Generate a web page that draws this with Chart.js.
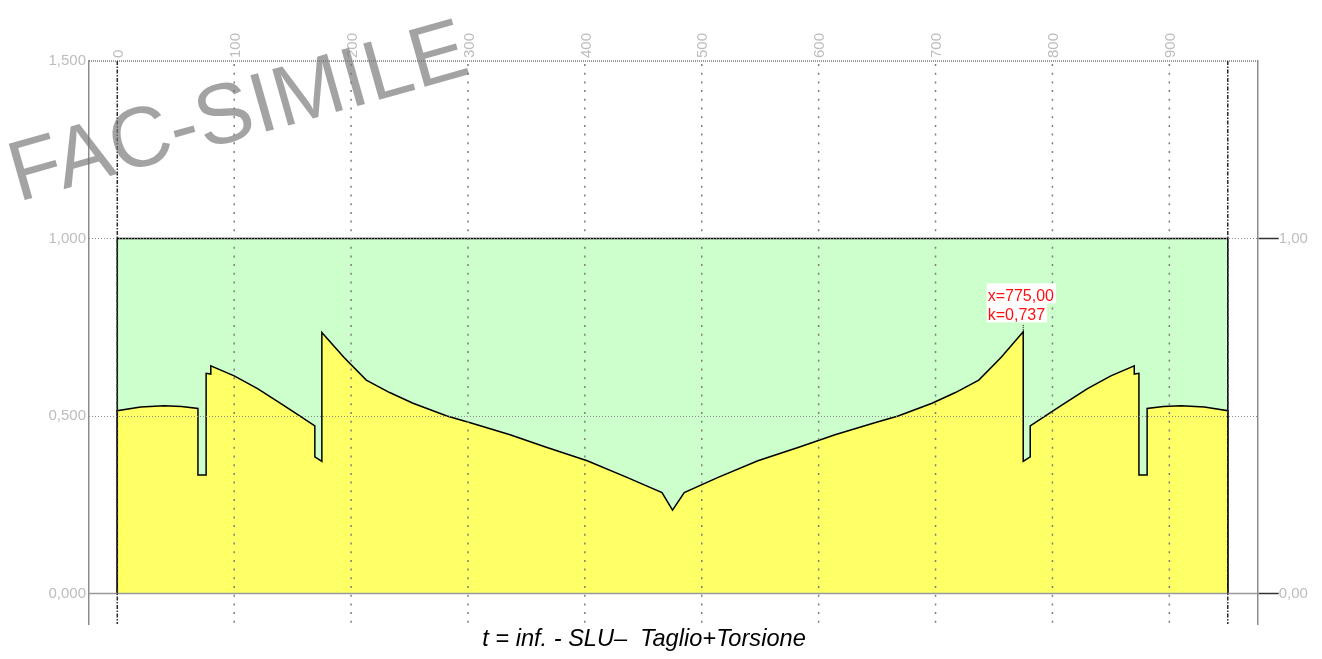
<!DOCTYPE html>
<html>
<head>
<meta charset="utf-8">
<script src="https://cdn.jsdelivr.net/npm/chart.js@4.4.0/dist/chart.umd.min.js"></script>
<style>
  html, body { margin: 0; padding: 0; background: #ffffff; }
  #wrap { width: 1322px; height: 659px; position: relative; }
</style>
</head>
<body>
<div id="wrap"><canvas id="chart"></canvas></div>
<script>
// Stations along the beam (cm) and shear + torsion utilisation k at each station
const stationX = [
  0, 0, 20, 40, 55, 69, 69, 76, 76, 80, 80, 100, 120, 140, 157, 169, 169, 175, 175, 194,
  213, 233, 253, 282, 302, 336, 367, 402, 436, 466, 475,
  485, 514, 548, 583, 614, 648, 668, 697, 717, 737, 756, 775, 775, 781, 781, 793, 810,
  830, 850, 870, 870, 874, 874, 881, 881, 895, 910, 930, 950, 950
];
const kValues = [
  0, 0.515, 0.525, 0.529, 0.527, 0.521, 0.334, 0.334, 0.620, 0.618, 0.641, 0.613, 0.577, 0.535, 0.498, 0.472, 0.385, 0.372, 0.735, 0.665,
  0.601, 0.566, 0.536, 0.500, 0.481, 0.447, 0.412, 0.374, 0.327, 0.284, 0.235,
  0.284, 0.327, 0.374, 0.412, 0.447, 0.481, 0.500, 0.536, 0.566, 0.601, 0.665, 0.737, 0.372, 0.385, 0.472, 0.498, 0.535,
  0.577, 0.613, 0.641, 0.618, 0.620, 0.334, 0.334, 0.521, 0.527, 0.529, 0.525, 0.515, 0
];

// Admissible region k <= 1 over the beam length
const limitX = [0, 0, 950, 950];
const limitK = [0, 1, 1, 0];

// Axis ranges and tick values
const beamStart = 0;
const beamEnd = 950;
const xMin = -24.2, xMax = 975.6;
const yMin = -0.086, yMax = 1.5;
const xTickValues = [0, 100, 200, 300, 400, 500, 600, 700, 800, 900];
const yLeftTicks = [0, 0.5, 1, 1.5];
const yRightTicks = [0, 1];
const hGridValues = [0.5, 1];

const titleText = 't = inf. - SLU\u2013  Taglio+Torsione';
const watermarkText = 'FAC-SIMILE';

const FONT = '"Liberation Sans", Arial, Helvetica, sans-serif';
Chart.defaults.font.family = FONT;

const comma = (v, d) => v.toFixed(d).replace('.', ',');

const overlay = {
  id: 'overlay',
  afterDatasetsDraw(chart) {
    const { ctx, chartArea: ca, scales: { x, y } } = chart;
    ctx.save();
    // horizontal dotted grid
    ctx.strokeStyle = '#8a8a8a';
    ctx.lineWidth = 1;
    ctx.setLineDash([1, 2]);
    hGridValues.forEach(v => {
      const py = Math.round(y.getPixelForValue(v)) + 0.5;
      ctx.beginPath(); ctx.moveTo(ca.left, py); ctx.lineTo(ca.right, py); ctx.stroke();
    });
    // top frame line
    ctx.strokeStyle = '#7a7a7a';
    ctx.lineWidth = 1.5;
    ctx.setLineDash([1, 1]);
    ctx.beginPath(); ctx.moveTo(ca.left, ca.top); ctx.lineTo(ca.right, ca.top); ctx.stroke();
    // zero line
    ctx.setLineDash([]);
    ctx.strokeStyle = '#9a9a9a';
    ctx.lineWidth = 1.5;
    const y0 = y.getPixelForValue(0);
    ctx.beginPath(); ctx.moveTo(ca.left, y0); ctx.lineTo(ca.right, y0); ctx.stroke();
    // vertical dotted grid every 100 cm
    ctx.strokeStyle = '#7d7d7d';
    ctx.lineWidth = 1.5;
    ctx.setLineDash([2, 6.7]);
    xTickValues.forEach(v => {
      if (v === beamStart) return;
      const px = x.getPixelForValue(v);
      ctx.beginPath(); ctx.moveTo(px, ca.top + 3); ctx.lineTo(px, ca.bottom); ctx.stroke();
    });
    // beam ends: dash-dot lines
    ctx.strokeStyle = '#2a2a2a';
    ctx.lineWidth = 1.5;
    ctx.setLineDash([4, 1.5, 1.5, 1.5]);
    [beamStart, beamEnd].forEach(v => {
      const px = x.getPixelForValue(v);
      ctx.beginPath(); ctx.moveTo(px, ca.top); ctx.lineTo(px, ca.bottom); ctx.stroke();
    });
    ctx.restore();
  },
  afterDraw(chart) {
    const { ctx, scales: { x, y } } = chart;
    ctx.save();
    // governing value marker
    let iPeak = 0;
    kValues.forEach((k, i) => { if (k >= kValues[iPeak]) iPeak = i; });
    const px = x.getPixelForValue(stationX[iPeak]);
    const py = y.getPixelForValue(kValues[iPeak]);
    ctx.strokeStyle = '#000';
    ctx.lineWidth = 1;
    ctx.setLineDash([1, 1]);
    ctx.beginPath(); ctx.moveTo(px, py); ctx.lineTo(px, py - 8); ctx.stroke();
    ctx.setLineDash([]);
    ctx.font = '16px ' + FONT;
    ctx.textAlign = 'left';
    ctx.textBaseline = 'alphabetic';
    const lines = ['x=' + comma(stationX[iPeak], 2), 'k=' + comma(kValues[iPeak], 3)];
    const lx = px - 35.5;
    lines.forEach((t, i) => {
      const base = py - 30.5 + i * 19;
      const w = ctx.measureText(t).width;
      ctx.fillStyle = '#ffffff';
      ctx.fillRect(lx - 1, base - 18, w + 3, 20);
    });
    ctx.fillStyle = '#ff1010';
    lines.forEach((t, i) => ctx.fillText(t, lx, py - 30.5 + i * 19));

    // caption
    ctx.fillStyle = '#000';
    ctx.font = 'italic 23.6px ' + FONT;
    ctx.textAlign = 'center';
    ctx.fillText(titleText, 644, 646);

    // watermark
    ctx.translate(18, 202);
    ctx.rotate(-15.8 * Math.PI / 180);
    ctx.filter = 'blur(0.6px)';
    ctx.fillStyle = 'rgba(120,120,120,0.68)';
    ctx.font = '85px ' + FONT;
    ctx.textAlign = 'left';
    ctx.fillText(watermarkText, 0, 0);
    ctx.restore();
  }
};

const tickFont = { size: 15, family: FONT };
const tickColor = '#bdbdbd';

new Chart(document.getElementById('chart'), {
  type: 'line',
  data: {
    datasets: [
      {
        label: 'k',
        data: stationX.map((v, i) => ({ x: v, y: kValues[i] })),
        borderColor: '#000000',
        borderWidth: 1.5,
        backgroundColor: '#ffff66',
        fill: 'origin',
        pointRadius: 0,
        tension: 0,
        yAxisID: 'y'
      },
      {
        label: 'limite',
        data: limitX.map((v, i) => ({ x: v, y: limitK[i] })),
        borderColor: '#000000',
        borderWidth: 1.5,
        backgroundColor: '#ccffcc',
        fill: 'origin',
        pointRadius: 0,
        tension: 0,
        yAxisID: 'y'
      }
    ]
  },
  options: {
    responsive: true,
    maintainAspectRatio: false,
    animation: false,
    layout: { padding: { top: 0, left: 0, right: 0, bottom: 35 } },
    plugins: { legend: { display: false }, tooltip: { enabled: false }, title: { display: false } },
    scales: {
      x: {
        type: 'linear',
        position: 'top',
        min: xMin,
        max: xMax,
        afterBuildTicks: s => { s.ticks = xTickValues.map(v => ({ value: v })); },
        afterFit: s => { s.height = 61; },
        grid: { display: false, drawTicks: false },
        border: { display: false },
        ticks: {
          autoSkip: false,
          minRotation: 90,
          maxRotation: 90,
          padding: 3,
          labelOffset: 19.5,
          color: tickColor,
          font: tickFont,
          callback: v => String(v)
        }
      },
      y: {
        type: 'linear',
        position: 'left',
        min: yMin,
        max: yMax,
        afterBuildTicks: s => { s.ticks = yLeftTicks.map(v => ({ value: v })); },
        afterFit: s => { s.width = 89; },
        grid: { display: false, drawTicks: false },
        border: { display: true, color: '#8c8c8c', width: 1.5 },
        ticks: { padding: 3, color: tickColor, font: tickFont, callback: v => comma(v, 3) }
      },
      y2: {
        type: 'linear',
        position: 'right',
        min: yMin,
        max: yMax,
        afterBuildTicks: s => { s.ticks = yRightTicks.map(v => ({ value: v })); },
        afterFit: s => { s.width = 64.3; },
        grid: { display: true, drawOnChartArea: false, drawTicks: true, tickLength: 21, tickColor: '#333333', tickWidth: 1.5 },
        border: { display: true, color: '#8c8c8c', width: 1.5 },
        ticks: { padding: 0, color: tickColor, font: tickFont, callback: v => comma(v, 2) }
      }
    }
  },
  plugins: [overlay]
});
</script>
</body>
</html>
